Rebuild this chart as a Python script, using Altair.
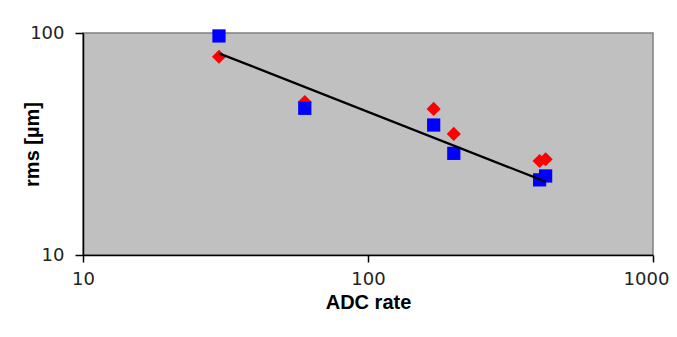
import altair as alt
import pandas as pd

# Data
adc_rate = [30, 60, 170, 200, 400, 420]
rms_red = [78.2, 48.9, 45.5, 35.1, 26.5, 27.0]
rms_blue = [97.0, 45.8, 38.5, 28.7, 21.8, 22.7]
fit_x = [30, 420]
fit_y = [81.0, 21.4]

x_ticks = [10, 100, 1000]
y_ticks = [10, 100]

red_df = pd.DataFrame({"adc": adc_rate, "rms": rms_red})
blue_df = pd.DataFrame({"adc": adc_rate, "rms": rms_blue})
fit_df = pd.DataFrame({"adc": fit_x, "rms": fit_y})

FONT = "Liberation Sans"
LABEL_FONT = "DejaVu Sans"

x_enc = alt.X(
    "adc:Q",
    scale=alt.Scale(type="log", domain=[10, 1000], nice=False),
    axis=alt.Axis(
        title="ADC rate",
        values=x_ticks,
        format="d",
        grid=False,
        domainColor="black",
        domainWidth=1.5,
        tickColor="black",
        tickSize=7,
        tickWidth=1.5,
        labelPadding=8,
        labelFontSize=18,
        labelFont=LABEL_FONT,
        labelColor="#222222",
        labelFlush=False,
        labelOverlap=False,
        labelOffset={"condition": {"test": "datum.value >= 1000", "value": -7}, "value": 0},
        titleFont=FONT,
        titleFontSize=20,
        titleFontWeight="bold",
        titleColor="black",
        titleX=285,
        titleY=47,
        titleBaseline="middle",
        titleAlign="center",
    ),
)

y_enc = alt.Y(
    "rms:Q",
    scale=alt.Scale(type="log", domain=[10, 100], nice=False),
    axis=alt.Axis(
        title="rms [µm]",
        values=y_ticks,
        format="d",
        grid=False,
        domainColor="black",
        domainWidth=1.5,
        tickColor="black",
        tickSize=8,
        tickWidth=1.5,
        labelPadding=11,
        labelFontSize=18,
        labelFont=LABEL_FONT,
        labelColor="#222222",
        labelFlush=False,
        labelOverlap=False,
        titleFont=FONT,
        titleFontSize=20,
        titleFontWeight="bold",
        titleColor="black",
        titleAngle=270,
        titleX=-51,
        titleY=111,
        titleBaseline="middle",
        titleAlign="center",
    ),
)

red = alt.Chart(red_df).mark_point(
    shape="diamond", filled=True, color="#ff0000", size=200, opacity=1
).encode(x=x_enc, y=y_enc)

blue = alt.Chart(blue_df).mark_point(
    shape="square", filled=True, color="#0000ff", size=175, opacity=1
).encode(x=x_enc, y=y_enc)

fit = alt.Chart(fit_df).mark_line(color="black", strokeWidth=2.3).encode(
    x=x_enc, y=y_enc
)

chart = (
    alt.layer(red, blue, fit)
    .properties(
        width=570,
        height=222,
        autosize=alt.AutoSizeParams(type="none"),
        padding={"left": 75, "top": 25, "right": 16, "bottom": 74},
        background="white",
    )
    .configure_view(fill="#c0c0c0", stroke="#808080", strokeWidth=1.5)
)

chart.save("out.html", embed_options={"renderer": "svg", "actions": False})
